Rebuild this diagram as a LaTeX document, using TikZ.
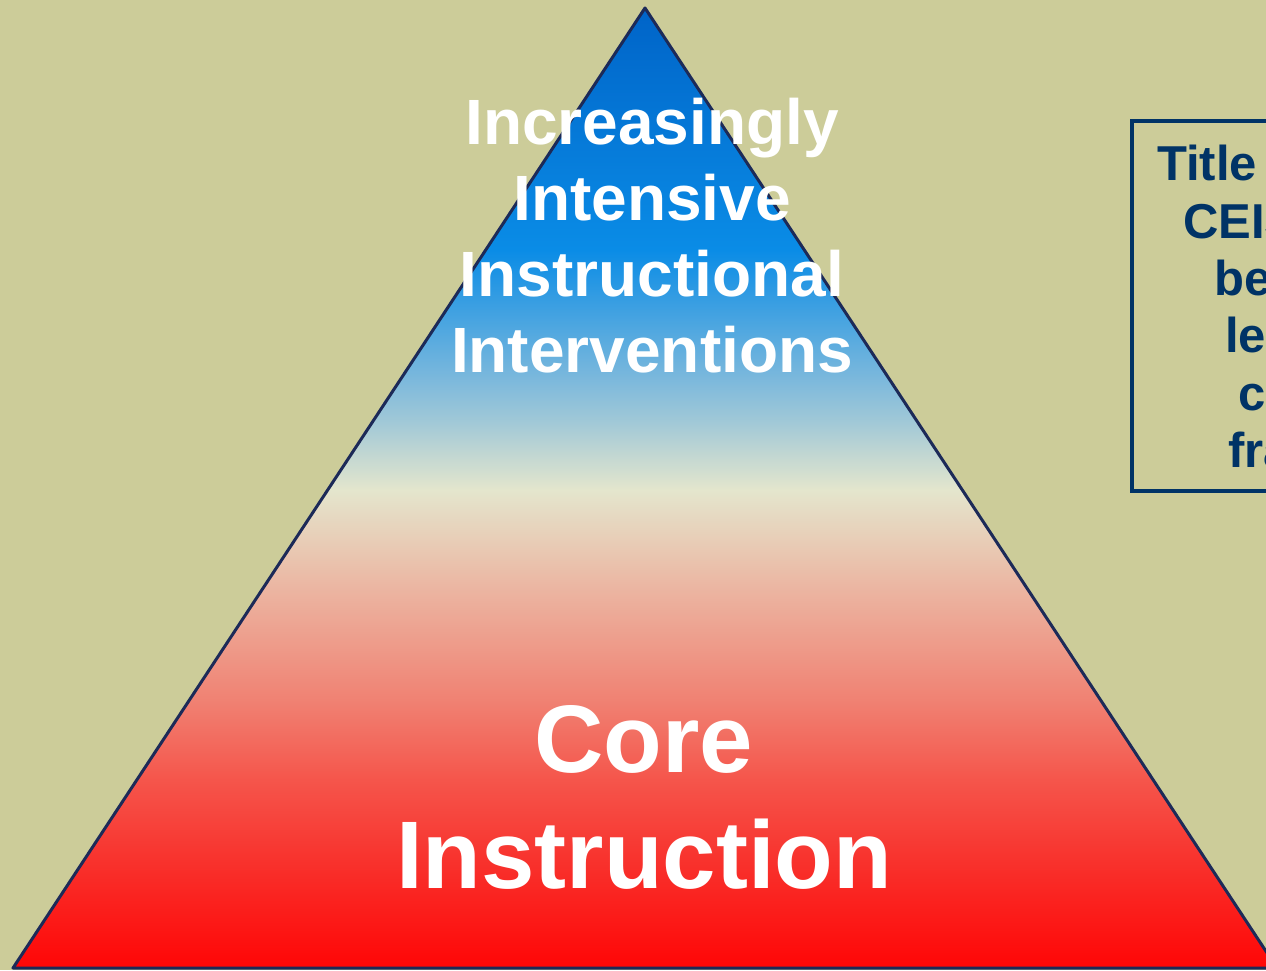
\documentclass[tikz,border=0pt]{standalone}
\usepackage{fontspec}
\setmainfont{Liberation Sans}

\definecolor{khaki}{RGB}{204,204,153}
\definecolor{navy}{RGB}{0,51,102}
\definecolor{rim}{RGB}{28,42,88}
% pyramid colours, bottom to top
\definecolor{pyrA}{RGB}{255,6,6}
\definecolor{pyrB}{RGB}{248,50,45}
\definecolor{pyrC}{RGB}{245,85,75}
\definecolor{pyrD}{RGB}{240,130,115}
\definecolor{pyrE}{RGB}{235,185,165}
\definecolor{pyrF}{RGB}{228,230,205}
\definecolor{pyrG}{RGB}{160,200,215}
\definecolor{pyrH}{RGB}{125,185,220}
\definecolor{pyrI}{RGB}{10,140,230}
\definecolor{pyrJ}{RGB}{0,100,200}
\pgfdeclareverticalshading{pyramid}{100bp}{color(0bp)=(pyrA); color(25bp)=(pyrA);
  color(30.6bp)=(pyrB); color(34.8bp)=(pyrC); color(39bp)=(pyrD); color(45.2bp)=(pyrE);
  color(49.9bp)=(pyrF); color(53.5bp)=(pyrG); color(55.6bp)=(pyrH); color(62.4bp)=(pyrI);
  color(75bp)=(pyrJ); color(100bp)=(pyrJ)}

\begin{document}
\begin{tikzpicture}[x=1pt,y=1pt,
    tiertext/.style={text=white, align=center, inner sep=0pt, anchor=base},
    boxtext/.style={text=navy, inner sep=0pt, anchor=base west, font=\bfseries\fontsize{49}{57}\selectfont}]
		% background
		\useasboundingbox (0,0) rectangle (1266,970);
		\clip (0,0) rectangle (1266,970);
		\fill[khaki] (0,0) rectangle (1266,970);
		
		% pyramid
		\coordinate (apex) at (645,962);
		\coordinate (left) at (13,2);
		\coordinate (right) at (1277,2);
		\path[shading=pyramid] (apex) -- (left) -- (right) -- cycle;
		\draw[rim, line width=3pt, line join=round] (apex) -- (left) -- (right) -- cycle;
		
		% tiers (base = last line)
		\node[tiertext, font=\bfseries\fontsize{64}{76}\selectfont] (upper) at (652,597)
		    {Increasingly\\Intensive\\Instructional\\Interventions};
		\node[tiertext, font=\bfseries\fontsize{96}{116}\selectfont] (core) at (644,82)
		    {Core\\Instruction};
		
		% side box (runs off the page)
		\draw[navy, line width=3.5pt] (1300,849) -- (1132,849) -- (1132,479) -- (1300,479);
		\node[boxtext] (l1) at (1157,789) {Title};
		\node[boxtext] (l2) at (1183,731.7) {CEIS};
		\node[boxtext] (l3) at (1214,674.4) {be};
		\node[boxtext] (l4) at (1225,617.1) {lev};
		\node[boxtext] (l5) at (1238,559.8) {co};
		\node[boxtext] (l6) at (1228,502.5) {fra};
	\end{tikzpicture}
\end{document}
